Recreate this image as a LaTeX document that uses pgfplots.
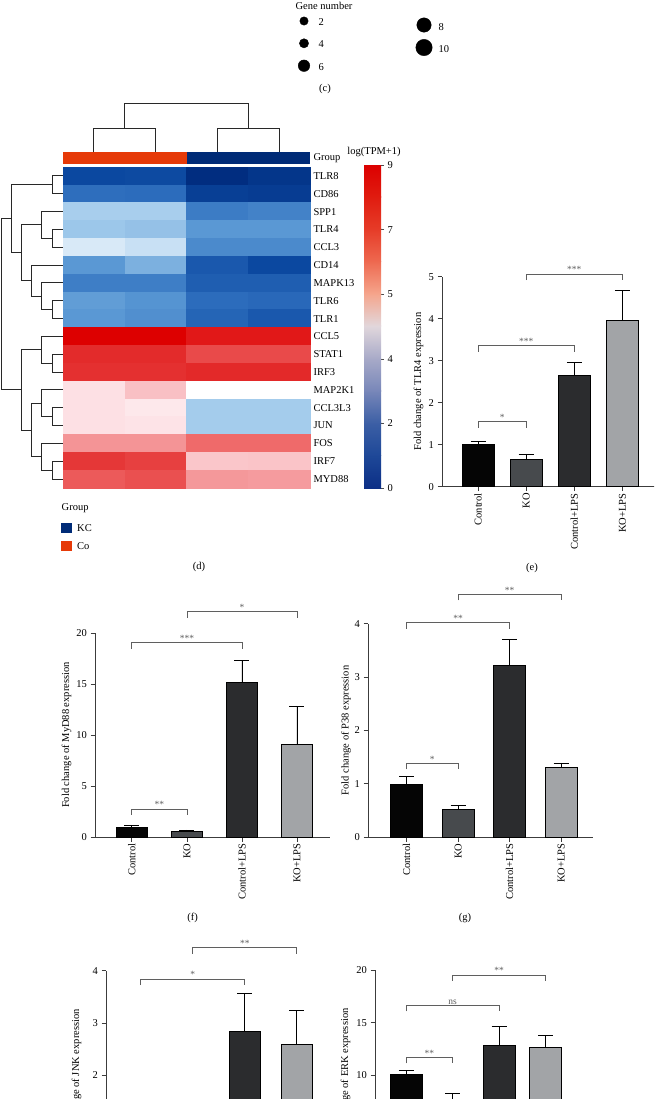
\documentclass[border=0pt]{standalone}
\usepackage{pgfplots}
\pgfplotsset{compat=1.18}
\usepackage{pgfplotstable}
\usepackage{fontspec}
\setmainfont{Liberation Serif}
\newcommand\ff{\fontsize{10.5}{12.6}\selectfont}
\newcommand\fs{\fontsize{9.5}{10}\selectfont}
\definecolor{cofill}{RGB}{230,58,8}
\definecolor{kcfill}{RGB}{0,43,119}
\definecolor{bC}{RGB}{5,5,5}
\definecolor{bK}{RGB}{71,74,77}
\definecolor{bCL}{RGB}{43,44,46}
\definecolor{bKL}{RGB}{162,164,167}
\definecolor{axc}{RGB}{60,60,60}
\definecolor{brc}{RGB}{95,95,95}
\definecolor{dend}{RGB}{40,40,40}
\definecolor{cb0}{RGB}{12,47,134}
\definecolor{cb1}{RGB}{30,72,152}
\definecolor{cb2}{RGB}{60,95,165}
\definecolor{cb3}{RGB}{120,135,185}
\definecolor{cb4}{RGB}{168,170,200}
\definecolor{cb5}{RGB}{225,215,220}
\definecolor{cb6}{RGB}{245,165,140}
\definecolor{cb7}{RGB}{238,105,80}
\definecolor{cb8}{RGB}{230,60,40}
\definecolor{cb9}{RGB}{224,28,16}
\definecolor{cb10}{RGB}{220,0,0}
\pgfplotsset{
  colormap={heat}{rgb255=(0,42,124) rgb255=(11,72,160) rgb255=(44,108,188) rgb255=(90,152,212) rgb255=(164,204,236) rgb255=(255,255,255) rgb255=(253,224,228) rgb255=(248,184,188) rgb255=(240,112,112) rgb255=(228,48,48) rgb255=(221,0,0)},
  barax/.style={scale only axis, anchor=south west, ymin=0, clip=false,
    enlargelimits=false,
    axis x line*=bottom, axis y line*=left,
    axis line style={axc, line width=0.8pt},
    every tick/.style={axc, line width=0.8pt},
    tick align=outside, major tick length=4.5pt,
    xtick={0,1,2,3}, xticklabels={Control,KO,Control+LPS,KO+LPS},
    x tick label style={rotate=90, anchor=east, font=\ff, inner sep=2pt},
    y tick label style={font=\ff},
    /pgf/number format/assume math mode=true,
    ylabel style={font=\ff, inner sep=0pt, anchor=south}},
  bb/.style={ybar, bar shift=0pt, draw=black, line width=0.7pt, fill=#1,
    error bars/.cd, y dir=plus, y explicit,
    error bar style={black, line width=0.8pt},
    error mark options={rotate=90, mark size=7.5pt, line width=0.8pt, black}},
}
\newcommand\br[4]{%
  \draw[brc, line width=0.8pt] ([yshift=-6pt]axis cs:#1,#3) -- (axis cs:#1,#3) -- (axis cs:#2,#3) -- ([yshift=-6pt]axis cs:#2,#3);
  \node[brc, font=\fs, anchor=south, inner sep=1pt] at (axis cs:{(#1+#2)/2},#3) {#4};}
\newcommand\mrg[5]{\draw[dend, line width=1pt] (axis cs:#1,#2) -- (axis cs:#3,#2) -- (axis cs:#3,#5) -- (axis cs:#4,#5);}

\pgfplotstableread{
x y c
0 0 1.0
1 0 1.05
2 0 0.1
3 0 0.4
0 1 2.05
1 1 2.0
2 1 0.7
3 1 0.6
0 2 4.05
1 2 4.05
2 2 2.36
3 2 2.5
0 3 3.9
1 3 3.8
2 3 3.0
3 3 3.0
0 4 4.57
1 4 4.4
2 4 2.68
3 4 2.68
0 5 3.0
1 5 3.46
2 5 1.45
3 5 1.0
0 6 2.4
1 6 2.4
2 6 1.6
3 6 1.6
0 7 3.1
1 7 2.9
2 7 2.0
3 7 1.9
0 8 3.0
1 8 2.8
2 8 1.8
3 8 1.45
0 9 10.0
1 9 10.0
2 9 9.5
3 9 9.5
0 10 9.1
1 10 9.1
2 10 8.6
3 10 8.6
0 11 9.0
1 11 9.0
2 11 9.15
3 11 9.15
0 12 6.0
1 12 6.8
2 12 5.0
3 12 5.0
0 13 6.0
1 13 5.75
2 13 4.0
3 13 4.0
0 14 6.0
1 14 5.9
2 14 4.0
3 14 4.0
0 15 7.5
1 15 7.5
2 15 8.1
3 15 8.1
0 16 8.9
1 16 8.75
2 16 6.65
3 16 6.7
0 17 8.35
1 17 8.5
2 17 7.45
3 17 7.4
}\heat

\begin{document}
\begin{tikzpicture}
\path[use as bounding box] (0,0) rectangle (654pt,-1099pt);
\clip (0,0) rectangle (654pt,-1099pt);

% ---------------- heatmap (d)
\begin{axis}[scale only axis, anchor=south west, at={(63pt,-488pt)},
  width=247pt, height=321pt,
  xmin=-0.5, xmax=3.5, ymin=-0.5, ymax=17.5, y dir=reverse, enlargelimits=false,
  colormap name=heat, point meta min=0, point meta max=10,
  axis line style={draw=none}, tick style={draw=none}, xtick=\empty,
  ytick={0,...,17},
  yticklabels={TLR8,CD86,SPP1,TLR4,CCL3,CD14,MAPK13,TLR6,TLR1,CCL5,STAT1,IRF3,MAP2K1,CCL3L3,JUN,FOS,IRF7,MYD88},
  yticklabel pos=right, y tick label style={anchor=west, font=\ff}, clip=false]
\addplot[matrix plot*, mesh/cols=4, point meta=explicit] table[x=x, y=y, meta=c] {\heat};
\fill[cofill] (axis cs:-0.5,-1.341) rectangle (axis cs:1.5,-0.668);
\fill[kcfill] (axis cs:1.5,-1.341) rectangle (axis cs:3.5,-0.668);
\node[anchor=west, font=\ff] at (axis cs:3.5,-1.0) {Group};
% top dendrogram
\draw[dend, line width=1pt] (axis cs:0,-1.341) -- (axis cs:0,-2.687) -- (axis cs:1,-2.687) -- (axis cs:1,-1.341);
\draw[dend, line width=1pt] (axis cs:2,-1.341) -- (axis cs:2,-2.687) -- (axis cs:3,-2.687) -- (axis cs:3,-1.341);
\draw[dend, line width=1pt] (axis cs:0.5,-2.687) -- (axis cs:0.5,-4.033) -- (axis cs:2.5,-4.033) -- (axis cs:2.5,-2.687);
% left dendrogram
\mrg{-0.5}{0}{-0.673}{-0.5}{1}
\mrg{-0.5}{3}{-0.673}{-0.5}{4}
\mrg{-0.5}{2}{-0.845}{-0.673}{3.5}
\mrg{-0.5}{7}{-0.673}{-0.5}{8}
\mrg{-0.5}{6}{-0.845}{-0.673}{7.5}
\mrg{-0.5}{5}{-1.007}{-0.845}{6.75}
\mrg{-0.845}{2.75}{-1.18}{-1.007}{5.875}
\mrg{-0.673}{0.5}{-1.331}{-1.18}{4.3125}
\mrg{-0.5}{10}{-0.673}{-0.5}{11}
\mrg{-0.5}{9}{-0.845}{-0.673}{10.5}
\mrg{-0.5}{13}{-0.673}{-0.5}{14}
\mrg{-0.5}{12}{-0.845}{-0.673}{13.5}
\mrg{-0.5}{16}{-0.673}{-0.5}{17}
\mrg{-0.5}{15}{-0.845}{-0.673}{16.5}
\mrg{-0.845}{12.75}{-1.007}{-0.845}{15.75}
\mrg{-0.845}{9.75}{-1.18}{-1.007}{14.25}
\mrg{-1.331}{2.406}{-1.488}{-1.18}{12}
\end{axis}

% ---------------- colour bar
\begin{axis}[scale only axis, anchor=south west, at={(364pt,-488pt)},
  width=17pt, height=323pt, xmin=-0.5, xmax=1.5, ymin=0, ymax=5, enlargelimits=false,
  axis line style={draw=none}, xtick=\empty, ytick={0,...,5}, yticklabels={0,2,4,5,7,9},
  ytick pos=right, yticklabel pos=right, tick align=outside, major tick length=3pt,
  every tick/.style={black!70, line width=0.6pt},
  y tick label style={font=\ff}, /pgf/number format/assume math mode=true, clip=false]
\shade[bottom color=cb0, top color=cb1] (axis cs:-0.5,0) rectangle (axis cs:1.5,0.51);
\shade[bottom color=cb1, top color=cb2] (axis cs:-0.5,0.5) rectangle (axis cs:1.5,1.01);
\shade[bottom color=cb2, top color=cb3] (axis cs:-0.5,1) rectangle (axis cs:1.5,1.51);
\shade[bottom color=cb3, top color=cb4] (axis cs:-0.5,1.5) rectangle (axis cs:1.5,2.01);
\shade[bottom color=cb4, top color=cb5] (axis cs:-0.5,2) rectangle (axis cs:1.5,2.51);
\shade[bottom color=cb5, top color=cb6] (axis cs:-0.5,2.5) rectangle (axis cs:1.5,3.01);
\shade[bottom color=cb6, top color=cb7] (axis cs:-0.5,3) rectangle (axis cs:1.5,3.51);
\shade[bottom color=cb7, top color=cb8] (axis cs:-0.5,3.5) rectangle (axis cs:1.5,4.01);
\shade[bottom color=cb8, top color=cb9] (axis cs:-0.5,4) rectangle (axis cs:1.5,4.51);
\shade[bottom color=cb9, top color=cb10] (axis cs:-0.5,4.5) rectangle (axis cs:1.5,5);
\addplot[draw=none] coordinates {(0,0)};
\end{axis}

% ---------------- (e) TLR4
\begin{axis}[barax, at={(442pt,-486.7pt)}, width=212.6pt, height=210pt,
  xmin=-0.75, xmax=3.67, ymax=5, ytick={0,1,2,3,4,5}, bar width=32pt,
  ylabel={Fold change of TLR4 expression},
  ylabel style={at={([xshift=-18.5pt]axis description cs:0,0.5)}}]
\addplot[bb=bC] coordinates {(0,1.00) +- (0,0.08)};
\addplot[bb=bK] coordinates {(1,0.65) +- (0,0.13)};
\addplot[bb=bCL] coordinates {(2,2.65) +- (0,0.30)};
\addplot[bb=bKL] coordinates {(3,3.95) +- (0,0.73)};
\br{0}{1}{1.55}{*}
\br{0}{2}{3.36}{***}
\br{1}{3}{5.06}{***}
\end{axis}

% ---------------- (f) MyD88
\begin{axis}[barax, at={(95pt,-837pt)}, width=235pt, height=204pt,
  xmin=-0.67, xmax=3.6, ymax=20, ytick={0,5,10,15,20}, bar width=31pt,
  ylabel={Fold change of MyD88 expression},
  ylabel style={at={([xshift=-23.5pt]axis description cs:0,0.5)}}]
\addplot[bb=bC] coordinates {(0,0.97) +- (0,0.13)};
\addplot[bb=bK] coordinates {(1,0.52) +- (0,0.17)};
\addplot[bb=bCL] coordinates {(2,15.15) +- (0,2.2)};
\addplot[bb=bKL] coordinates {(3,9.1) +- (0,3.75)};
\br{0}{1}{2.75}{**}
\br{0}{2}{19.05}{***}
\br{1}{3}{22.1}{*}
\end{axis}

% ---------------- (g) P38
\begin{axis}[barax, at={(368pt,-837pt)}, width=225pt, height=213.2pt,
  xmin=-0.75, xmax=3.62, ymax=4, ytick={0,1,2,3,4}, bar width=32pt,
  ylabel={Fold change of P38 expression},
  ylabel style={at={([xshift=-16.8pt]axis description cs:0,0.5)}}]
\addplot[bb=bC] coordinates {(0,0.98) +- (0,0.15)};
\addplot[bb=bK] coordinates {(1,0.52) +- (0,0.07)};
\addplot[bb=bCL] coordinates {(2,3.23) +- (0,0.48)};
\addplot[bb=bKL] coordinates {(3,1.31) +- (0,0.08)};
\br{0}{1}{1.38}{*}
\br{0}{2}{4.02}{**}
\br{1}{3}{4.55}{**}
\end{axis}

% ---------------- (h) JNK (lower part lies below the picture, as in the reference)
\begin{axis}[barax, at={(106pt,-1180pt)}, width=222pt, height=209.2pt,
  xmin=-0.67, xmax=3.6, ymax=4, ytick={2,3,4}, bar width=31pt,
  xticklabels={},
  ylabel={Fold change of JNK expression},
  ylabel style={at={([xshift=-24.5pt]axis description cs:0,0.5)}}]
\addplot[bb=bC] coordinates {(0,1.0) +- (0,0.12)};
\addplot[bb=bK] coordinates {(1,0.55) +- (0,0.1)};
\addplot[bb=bCL] coordinates {(2,2.85) +- (0,0.71)};
\addplot[bb=bKL] coordinates {(3,2.6) +- (0,0.65)};
\br{0}{2}{3.84}{*}
\br{1}{3}{4.44}{**}
\end{axis}

% ---------------- (i) ERK
\begin{axis}[barax, at={(375pt,-1181pt)}, width=198.6pt, height=211pt,
  xmin=-0.67, xmax=3.6, ymax=20, ytick={10,15,20}, bar width=32pt,
  xticklabels={},
  ylabel={Fold change of ERK expression},
  ylabel style={at={([xshift=-24.5pt]axis description cs:0,0.5)}}]
\addplot[bb=bC] coordinates {(0,10.13) +- (0,0.34)};
\addplot[bb=bK] coordinates {(1,6.9) +- (0,1.43)};
\addplot[bb=bCL] coordinates {(2,12.82) +- (0,1.87)};
\addplot[bb=bKL] coordinates {(3,12.66) +- (0,1.14)};
\br{0}{1}{11.71}{**}
\br{0}{2}{16.65}{ns}
\br{1}{3}{19.53}{**}
\end{axis}

% ---------------- overlay: bubble legend, group legend, panel labels
\begin{axis}[scale only axis, anchor=south west, at={(0pt,-1099pt)}, width=654pt, height=1099pt,
  xmin=0, xmax=654, ymin=0, ymax=1099, y dir=reverse, hide axis, clip=false]
\addplot[only marks, mark=*, black, mark size=4.2pt] coordinates {(304,21)};
\addplot[only marks, mark=*, black, mark size=4.6pt] coordinates {(304,43.3)};
\addplot[only marks, mark=*, black, mark size=5.8pt] coordinates {(304,65.7)};
\addplot[only marks, mark=*, black, mark size=7.2pt] coordinates {(424,25)};
\addplot[only marks, mark=*, black, mark size=8.2pt] coordinates {(424,47.5)};
\node[font=\ff] at (axis cs:324,5.5) {Gene number};
\node[font=\ff, anchor=west] at (axis cs:315,22) {2};
\node[font=\ff, anchor=west] at (axis cs:315,44.5) {4};
\node[font=\ff, anchor=west] at (axis cs:315,67) {6};
\node[font=\ff, anchor=west] at (axis cs:435,27) {8};
\node[font=\ff, anchor=west] at (axis cs:435,49.5) {10};
\node[font=\ff] at (axis cs:325,89) {(c)};
\node[font=\ff] at (axis cs:374,152) {log(TPM+1)};
\node[font=\ff, anchor=west, inner sep=0pt] at (axis cs:61.5,508) {Group};
\fill[kcfill] (axis cs:61,522.7) rectangle (axis cs:71.5,532.7);
\fill[cofill] (axis cs:61,540.7) rectangle (axis cs:71.5,550.7);
\node[font=\ff, anchor=west, inner sep=0pt] at (axis cs:77,528) {KC};
\node[font=\ff, anchor=west, inner sep=0pt] at (axis cs:77,546) {Co};
\node[font=\ff] at (axis cs:199,566.5) {(d)};
\node[font=\ff] at (axis cs:532,568) {(e)};
\node[font=\ff] at (axis cs:192.7,918) {(f)};
\node[font=\ff] at (axis cs:465,918) {(g)};
\end{axis}
\end{tikzpicture}
\end{document}
